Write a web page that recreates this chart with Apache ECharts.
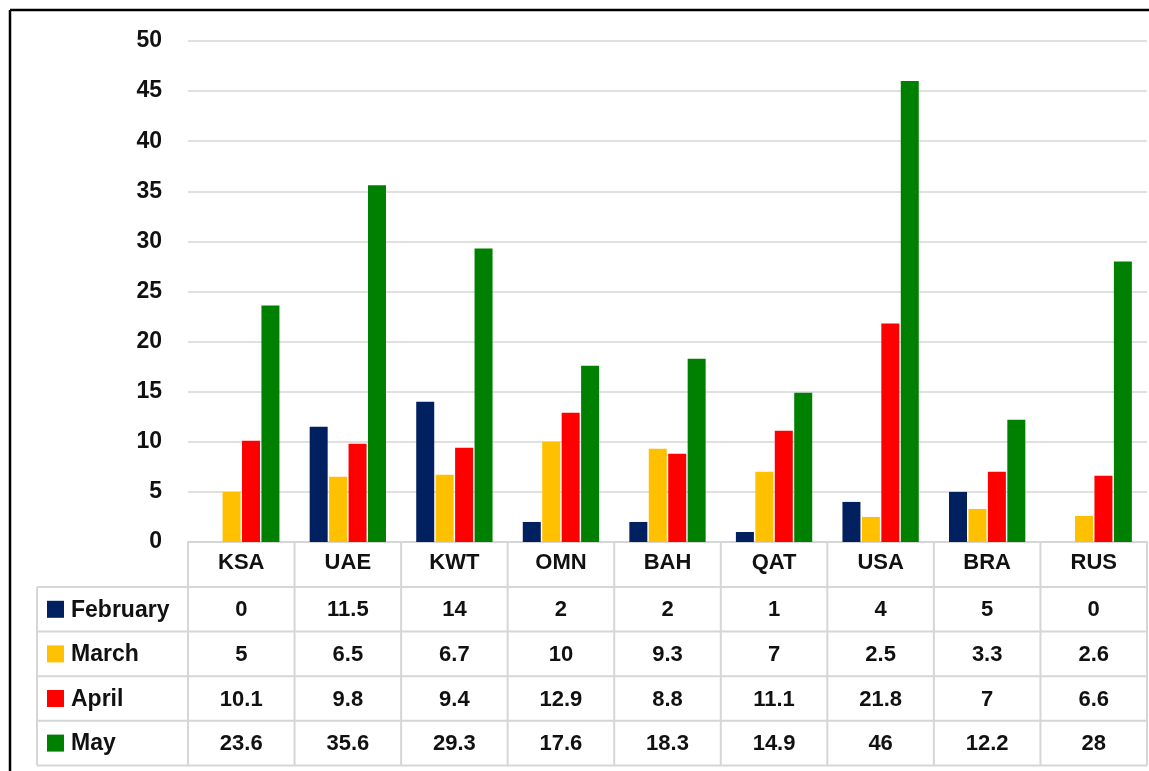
<!DOCTYPE html>
<html>
<head>
<meta charset="utf-8">
<script src="https://cdn.jsdelivr.net/npm/echarts@6/dist/echarts.min.js"></script>
<style>
html,body{margin:0;padding:0;background:#fff;}
#chart{width:1149px;height:771px;}
</style>
</head>
<body>
<div id="chart"></div>
<script>
const categories = ['KSA','UAE','KWT','OMN','BAH','QAT','USA','BRA','RUS'];
const seriesNames = ['February','March','April','May'];
const february = [0, 11.5, 14, 2, 2, 1, 4, 5, 0];
const march = [5, 6.5, 6.7, 10, 9.3, 7, 2.5, 3.3, 2.6];
const april = [10.1, 9.8, 9.4, 12.9, 8.8, 11.1, 21.8, 7, 6.6];
const may = [23.6, 35.6, 29.3, 17.6, 18.3, 14.9, 46, 12.2, 28];
const yMin = 0, yMax = 50, yInterval = 5;

const colors = ['#002060', '#FFC000', '#FF0000', '#008000'];
const seriesData = [february, march, april, may];
const FONT = '"Liberation Sans", Arial, sans-serif';
const TXT = '#111';
const LINE = '#d6d6d6';

const chart = echarts.init(document.getElementById('chart'), null, {renderer: 'canvas'});
chart.setOption({
  backgroundColor: '#fff',
  animation: false,
  grid: {left: 188, right: 2, top: 41, bottom: 229, containLabel: false},
  xAxis: {
    type: 'category',
    data: categories,
    boundaryGap: true,
    axisLine: {show: true, lineStyle: {color: LINE, width: 2}},
    axisTick: {show: false},
    axisLabel: {show: true, margin: 10, fontFamily: FONT, fontWeight: 'bold', fontSize: 22, color: TXT}
  },
  yAxis: {
    type: 'value',
    min: yMin, max: yMax, interval: yInterval,
    axisLine: {show: false},
    axisTick: {show: false},
    axisLabel: {margin: 26, fontFamily: FONT, fontWeight: 'bold', fontSize: 23, color: TXT},
    splitLine: {show: true, lineStyle: {color: LINE, width: 1.5}}
  },
  series: seriesNames.map((n, i) => ({
    name: n,
    type: 'bar',
    data: seriesData[i],
    barWidth: 18,
    barGap: '8%',
    itemStyle: {color: colors[i]}
  }))
});

function buildTable() {
  const c0 = chart.convertToPixel({xAxisIndex: 0}, 0);
  const c1 = chart.convertToPixel({xAxisIndex: 0}, 1);
  const colW = c1 - c0;
  const yZero = chart.convertToPixel({yAxisIndex: 0}, 0);
  const rowH = 44.6;
  const headerH = 45;
  const leftX = 37;
  const firstX = c0 - colW / 2;
  const lastX = firstX + colW * categories.length;
  const rowTop = yZero + headerH;
  const bottomY = rowTop + rowH * seriesNames.length;
  const els = [];
  els.push({type: 'line', silent: true, shape: {x1: firstX, y1: yZero, x2: lastX, y2: yZero}, style: {stroke: LINE, lineWidth: 2}});
  for (let r = 0; r <= seriesNames.length; r++) {
    const y = rowTop + r * rowH;
    els.push({type: 'line', silent: true, shape: {x1: leftX, y1: y, x2: lastX, y2: y}, style: {stroke: LINE, lineWidth: 2}});
  }
  els.push({type: 'line', silent: true, shape: {x1: leftX, y1: rowTop, x2: leftX, y2: bottomY}, style: {stroke: LINE, lineWidth: 2}});
  for (let c = 0; c <= categories.length; c++) {
    const x = firstX + c * colW;
    els.push({type: 'line', silent: true, shape: {x1: x, y1: yZero, x2: x, y2: bottomY}, style: {stroke: LINE, lineWidth: 2}});
  }
  seriesNames.forEach((name, r) => {
    const cy = rowTop + r * rowH + rowH / 2;
    els.push({type: 'rect', silent: true, shape: {x: 47, y: cy - 8.5, width: 17, height: 17}, style: {fill: colors[r]}});
    els.push({type: 'text', silent: true, x: 71, y: cy + 1, style: {text: name, fill: TXT, font: 'bold 23px ' + FONT, textAlign: 'left', textVerticalAlign: 'middle'}});
    seriesData[r].forEach((v, c) => {
      const cx = chart.convertToPixel({xAxisIndex: 0}, c);
      els.push({type: 'text', silent: true, x: cx, y: cy + 1, style: {text: String(v), fill: TXT, font: 'bold 22px ' + FONT, textAlign: 'center', textVerticalAlign: 'middle'}});
    });
  });
  els.push({type: 'line', silent: true, shape: {x1: 10, y1: 10, x2: 1149, y2: 10}, style: {stroke: '#000', lineWidth: 2.5}});
  els.push({type: 'line', silent: true, shape: {x1: 10, y1: 10, x2: 10, y2: 771}, style: {stroke: '#000', lineWidth: 2.5}});
  chart.setOption({graphic: {elements: els}});
}
buildTable();
</script>
</body>
</html>
